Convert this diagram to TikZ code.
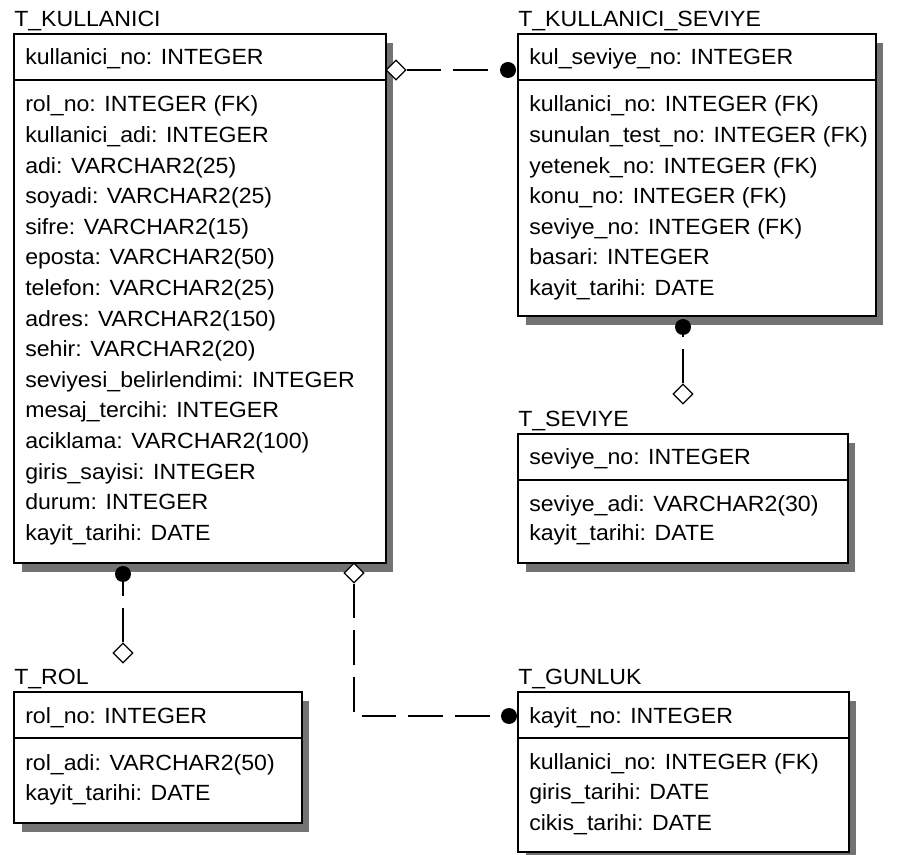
\documentclass[tikz,border=0pt]{standalone}
\usepackage{fontspec}
\setmainfont{Liberation Sans}[FakeStretch=1.05]
\usetikzlibrary{shapes.geometric,fit,calc}

% entity box: name, left, top, right, bottom, key separator
\newcommand\ertable[6]{%
  \node[tbl, fit={(#2,#3) (#4,#5)}] (#1) {};
  \fill[shade] (#4+0.6,#3+9) rectangle (#4+7,#5+9);
  \fill[shade] (#2+8,#5+0.6) rectangle (#4+7,#5+9);
  \draw[line width=1.2pt] (#2,#6) -- (#4,#6);
}

\begin{document}
\begin{tikzpicture}[x=0.75pt,y=-0.75pt,
  every node/.style={font=\fontsize{16.5}{19}\selectfont},
  txt/.style={anchor=base west, inner sep=0pt},
  tbl/.style={draw=black, line width=1.2pt, inner sep=0pt, fill=white},
  shade/.style={fill=black!55},
  rel/.style={draw=black, line width=1.1pt, dash pattern=on 26pt off 9pt},
  parent/.style={diamond, draw=black, fill=white, line width=0.9pt, inner sep=0pt,
                 minimum width=15pt, minimum height=15pt, aspect=1},
  child/.style={circle, fill=black, inner sep=0pt, minimum size=12pt},
]
\useasboundingbox (0,0) rectangle (897,855);
\fill[white] (0,0) rectangle (897,855);

% ---------------- T_KULLANICI
\ertable{kul}{14}{34}{386}{563}{80}
\node[txt] (kul-t) at (14,27) {T\_KULLANICI};
\node[txt] (kul-k) at (25,65) {kullanici\_no: INTEGER};
\foreach \t [count=\i from 0] in {
  rol\_no: INTEGER (FK),
  kullanici\_adi: INTEGER,
  adi: VARCHAR2(25),
  soyadi: VARCHAR2(25),
  sifre: VARCHAR2(15),
  eposta: VARCHAR2(50),
  telefon: VARCHAR2(25),
  adres: VARCHAR2(150),
  sehir: VARCHAR2(20),
  seviyesi\_belirlendimi: INTEGER,
  mesaj\_tercihi: INTEGER,
  aciklama: VARCHAR2(100),
  giris\_sayisi: INTEGER,
  durum: INTEGER,
  kayit\_tarihi: DATE}
  \node[txt] (kul-r\i) at (25,112+30.6*\i) {\t};

% ---------------- T_KULLANICI_SEVIYE
\ertable{ks}{518}{34}{876}{316}{80}
\node[txt] (ks-t) at (518,27) {T\_KULLANICI\_SEVIYE};
\node[txt] (ks-k) at (529,65) {kul\_seviye\_no: INTEGER};
\foreach \t [count=\i from 0] in {
  kullanici\_no: INTEGER (FK),
  sunulan\_test\_no: INTEGER (FK),
  yetenek\_no: INTEGER (FK),
  konu\_no: INTEGER (FK),
  seviye\_no: INTEGER (FK),
  basari: INTEGER,
  kayit\_tarihi: DATE}
  \node[txt] (ks-r\i) at (529,112+30.6*\i) {\t};

% ---------------- T_SEVIYE
\ertable{sev}{518}{434}{848}{563}{480}
\node[txt] (sev-t) at (518,427) {T\_SEVIYE};
\node[txt] (sev-k) at (529,465) {seviye\_no: INTEGER};
\foreach \t [count=\i from 0] in {
  seviye\_adi: VARCHAR2(30),
  kayit\_tarihi: DATE}
  \node[txt] (sev-r\i) at (529,512+29*\i) {\t};

% ---------------- T_ROL
\ertable{rol}{14}{692}{302}{823}{738}
\node[txt] (rol-t) at (14,685) {T\_ROL};
\node[txt] (rol-k) at (25,723) {rol\_no: INTEGER};
\foreach \t [count=\i from 0] in {
  rol\_adi: VARCHAR2(50),
  kayit\_tarihi: DATE}
  \node[txt] (rol-r\i) at (25,770+30*\i) {\t};

% ---------------- T_GUNLUK
\ertable{gun}{518}{692}{849}{852}{738}
\node[txt] (gun-t) at (518,685) {T\_GUNLUK};
\node[txt] (gun-k) at (529,723) {kayit\_no: INTEGER};
\foreach \t [count=\i from 0] in {
  kullanici\_no: INTEGER (FK),
  giris\_tarihi: DATE,
  cikis\_tarihi: DATE}
  \node[txt] (gun-r\i) at (529,769+30.5*\i) {\t};

% ---------------- relationship ends
\node[parent] (d1) at (396,70) {};
\node[child]  (c1) at (508,70) {};
\node[child]  (c2) at (683,327) {};
\node[parent] (d2) at (683,394) {};
\node[child]  (c3) at (123,574) {};
\node[parent] (d3) at (123,653) {};
\node[parent] (d4) at (354,573) {};
\node[child]  (c4) at (509,716) {};

% ---------------- non-identifying relationships
\draw[rel] (d1) -- (c1);
\draw[rel] (d2) -- (c2);
\draw[rel] (d3) -- (c3);
\draw[rel] (d4) |- (c4);
\end{tikzpicture}
\end{document}
